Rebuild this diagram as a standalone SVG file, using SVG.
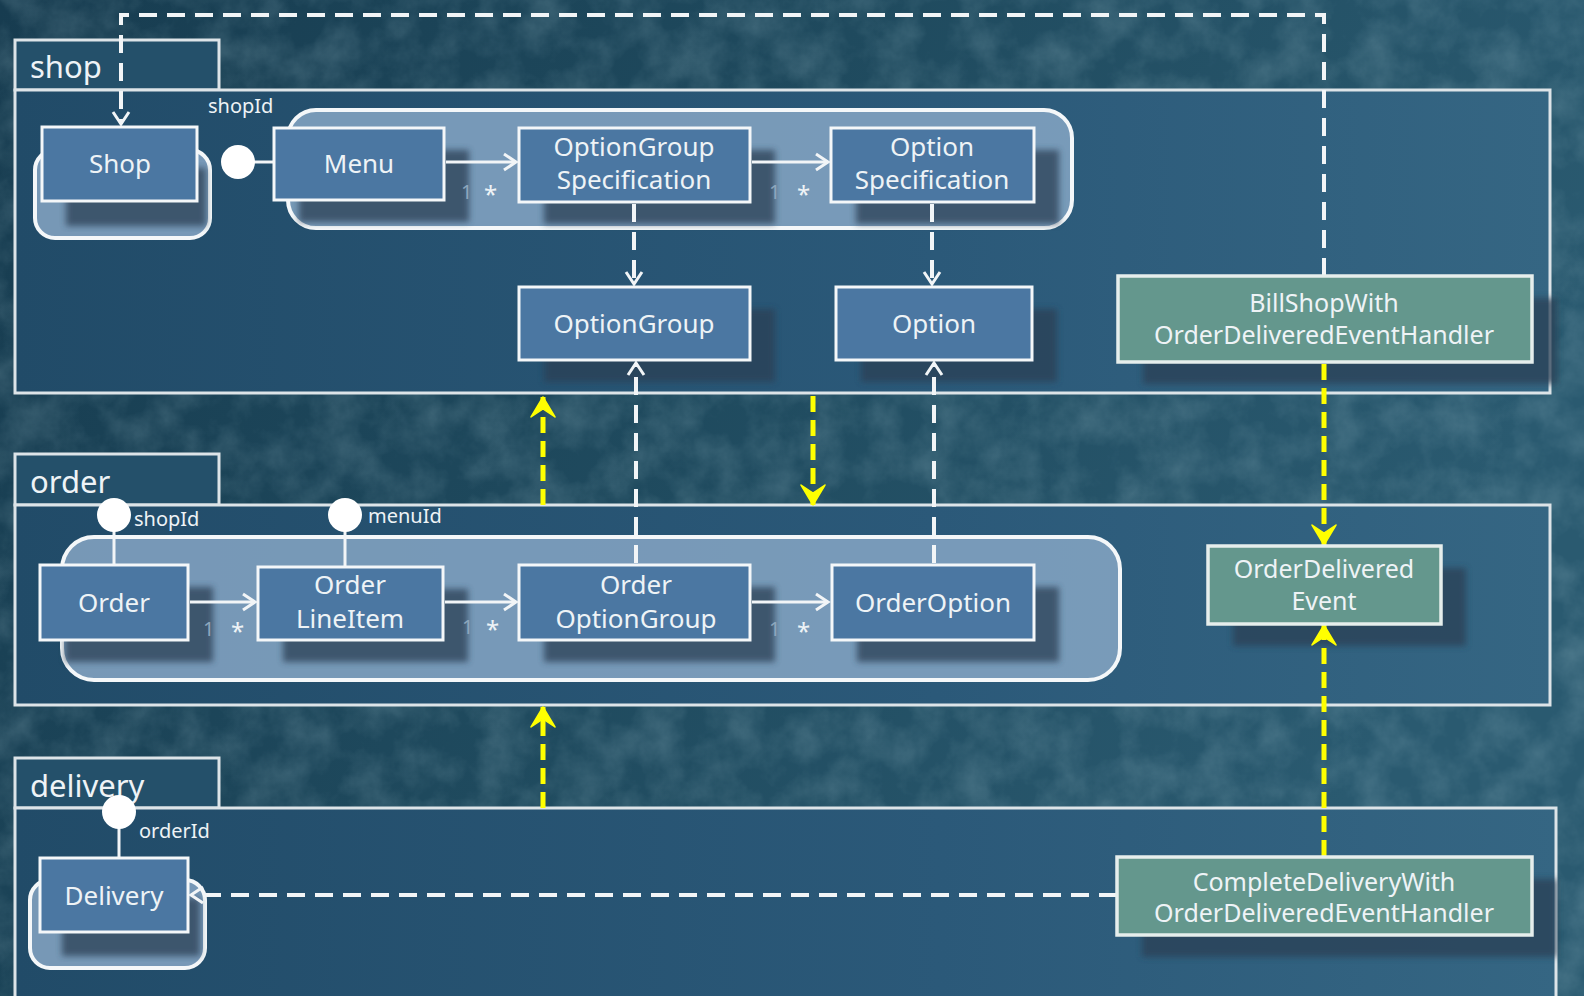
<svg xmlns="http://www.w3.org/2000/svg" width="1584" height="996" viewBox="0 0 1584 996">
<defs>
<linearGradient id="bg" x1="0" y1="0" x2="1" y2="0.3">
<stop offset="0" stop-color="#173c50"/>
<stop offset="0.5" stop-color="#1f4a5e"/>
<stop offset="1" stop-color="#2a5a70"/>
</linearGradient>
<linearGradient id="pkg" x1="0" y1="0" x2="1" y2="0">
<stop offset="0" stop-color="#214b68"/>
<stop offset="0.6" stop-color="#2b5979"/>
<stop offset="1" stop-color="#356683"/>
</linearGradient>
<filter id="tex" x="0" y="0" width="100%" height="100%">
<feTurbulence type="fractalNoise" baseFrequency="0.025" numOctaves="5" seed="7"/>
<feColorMatrix values="0 0 0 0 0.45  0 0 0 0 0.65  0 0 0 0 0.72  0 0 0 0.9 -0.3"/>
</filter>
<filter id="blur" x="-10%" y="-10%" width="120%" height="120%">
<feGaussianBlur stdDeviation="3"/>
</filter>
<marker id="wa" viewBox="-14 -10 16 20" refX="0" refY="0" markerWidth="16" markerHeight="20" markerUnits="userSpaceOnUse" orient="auto" overflow="visible">
<path d="M-12,-8 L0,0 L-12,8" fill="none" stroke="#f2f5f7" stroke-width="3"/>
</marker>
<marker id="ya" viewBox="-20 -14 22 28" refX="0" refY="0" markerWidth="22" markerHeight="28" markerUnits="userSpaceOnUse" orient="auto" overflow="visible">
<path d="M0,0 L-20,-12 L-12,0 L-20,12 Z" fill="#ffff00" stroke="#ffff00" stroke-width="1.5" stroke-linejoin="round"/>
</marker>
<style>
.pk{fill:url(#pkg);stroke:#dde4e8;stroke-width:3}
.tab{fill:#24506a;stroke:#dde4e8;stroke-width:3}
.ptx{font-family:"Noto Sans","Open Sans",sans-serif;font-size:31px;fill:#eef3f6}
.cont{fill:#86a6c4;fill-opacity:0.85;stroke:#f4f7f9;stroke-width:4}
.sh{fill:#2c3f55;opacity:0.75;filter:url(#blur)}
.nb{fill:#4b77a2;stroke:#f4f7f9;stroke-width:3}
.ng{fill:#64978d;stroke:#e6eeec;stroke-width:3.5}
.t{font-family:"Noto Sans","Open Sans",sans-serif;font-size:26px;fill:#eef3f6;text-anchor:middle}
.tg{font-family:"Noto Sans","Open Sans",sans-serif;font-size:25px;fill:#eef3f6;text-anchor:middle}
.lb{font-family:"Noto Sans","Open Sans",sans-serif;font-size:20px;fill:#eef3f6}
.m1{font-family:"Noto Sans","Open Sans",sans-serif;font-size:20px;fill:#8ea7bd}
.ms{font-family:"Noto Sans","Open Sans",sans-serif;font-size:24px;fill:#eef3f6}
.sol{stroke:#f2f5f7;stroke-width:3;fill:none}
.wd{stroke:#f2f5f7;stroke-width:4;fill:none;stroke-dasharray:18 10}
.yd{stroke:#ffff00;stroke-width:5;fill:none;stroke-dasharray:16 8}
.lol{fill:#ffffff}
</style>
</defs>

<rect x="0" y="0" width="1584" height="996" fill="url(#bg)"/>
<rect x="0" y="0" width="1584" height="996" filter="url(#tex)" opacity="0.4"/>

<!-- packages -->
<g id="pkg-shop">
<rect class="tab" x="15" y="40" width="204" height="50"/>
<rect class="pk" x="15" y="90" width="1535" height="303"/>
<text class="ptx" x="30" y="78">shop</text>
</g>
<g id="pkg-order">
<rect class="tab" x="15" y="454" width="204" height="51"/>
<rect class="pk" x="15" y="505" width="1535" height="200"/>
<text class="ptx" x="30" y="493">order</text>
</g>
<g id="pkg-delivery">
<rect class="tab" x="15" y="758" width="204" height="50"/>
<rect class="pk" x="15" y="808" width="1541" height="200"/>
<text class="ptx" x="30" y="797">delivery</text>
</g>

<!-- aggregate containers -->
<g id="agg-shop">
<rect class="cont" x="35" y="150" width="175" height="88" rx="20"/>
<rect class="sh" x="66" y="168" width="140" height="58"/>
</g>
<g id="agg-menu">
<rect class="cont" x="288" y="110" width="784" height="118" rx="28"/>
</g>
<g id="agg-order">
<rect class="cont" x="62" y="537" width="1058" height="143" rx="32"/>
</g>
<g id="agg-delivery">
<rect class="cont" x="30" y="880" width="175" height="88" rx="20"/>
<rect class="sh" x="62" y="898" width="138" height="58"/>
</g>

<!-- shadows -->
<g id="shadows">
<rect class="sh" x="299" y="150" width="170" height="72"/>
<rect class="sh" x="544" y="150" width="231" height="74"/>
<rect class="sh" x="856" y="150" width="203" height="74"/>
<rect class="sh" x="544" y="309" width="231" height="73"/>
<rect class="sh" x="861" y="309" width="196" height="73"/>
<rect class="sh" x="1143" y="298" width="414" height="86"/>
<rect class="sh" x="65" y="587" width="148" height="75"/>
<rect class="sh" x="283" y="589" width="185" height="73"/>
<rect class="sh" x="544" y="587" width="231" height="75"/>
<rect class="sh" x="857" y="587" width="202" height="75"/>
<rect class="sh" x="1233" y="568" width="233" height="78"/>
<rect class="sh" x="1142" y="879" width="415" height="78"/>
</g>

<!-- connectors -->
<g id="connectors">
<path class="wd" d="M1324,276 V15 H121 V124" marker-end="url(#wa)"/>
<line class="sol" x1="254" y1="162" x2="274" y2="162"/>
<line class="sol" x1="446" y1="162" x2="516" y2="162" marker-end="url(#wa)"/>
<line class="sol" x1="752" y1="162" x2="828" y2="162" marker-end="url(#wa)"/>
<text class="m1" x="461" y="199">1</text><text class="ms" x="484" y="203">*</text>
<text class="m1" x="769" y="199">1</text><text class="ms" x="797" y="203">*</text>
<path class="wd" d="M634,204 V284" marker-end="url(#wa)"/>
<path class="wd" d="M932,204 V284" marker-end="url(#wa)"/>
<path class="wd" d="M636,563 V363" marker-end="url(#wa)"/>
<path class="wd" d="M934,563 V363" marker-end="url(#wa)"/>
<line class="sol" x1="190" y1="602" x2="255" y2="602" marker-end="url(#wa)"/>
<line class="sol" x1="445" y1="602" x2="516" y2="602" marker-end="url(#wa)"/>
<line class="sol" x1="752" y1="602" x2="828" y2="602" marker-end="url(#wa)"/>
<text class="m1" x="203" y="636">1</text><text class="ms" x="231" y="640">*</text>
<text class="m1" x="462" y="634">1</text><text class="ms" x="486" y="638">*</text>
<text class="m1" x="769" y="636">1</text><text class="ms" x="797" y="640">*</text>
<line class="sol" x1="114" y1="515" x2="114" y2="565"/>
<line class="sol" x1="345" y1="515" x2="345" y2="567"/>
<line class="sol" x1="119" y1="812" x2="119" y2="858"/>
<path class="wd" d="M1117,895 H191" marker-end="url(#wa)"/>
<path class="yd" d="M543,505 V397" marker-end="url(#ya)"/>
<path class="yd" d="M813,396 V505" marker-end="url(#ya)"/>
<path class="yd" d="M1324,364 V545" marker-end="url(#ya)"/>
<path class="yd" d="M1324,856 V625" marker-end="url(#ya)"/>
<path class="yd" d="M543,808 V707" marker-end="url(#ya)"/>
<circle class="lol" cx="238" cy="162" r="17"/>
<circle class="lol" cx="114" cy="515" r="17"/>
<circle class="lol" cx="345" cy="515" r="17"/>
<circle class="lol" cx="119" cy="812" r="17"/>
<text class="lb" x="208" y="113">shopId</text>
<text class="lb" x="134" y="526">shopId</text>
<text class="lb" x="368" y="523">menuId</text>
<text class="lb" x="139" y="838">orderId</text>
</g>

<!-- nodes -->
<g id="n-shop"><rect class="nb" x="42" y="127" width="155" height="74"/><text class="t" x="120" y="173">Shop</text></g>
<g id="n-menu"><rect class="nb" x="274" y="128" width="170" height="72"/><text class="t" x="359" y="173">Menu</text></g>
<g id="n-ogs"><rect class="nb" x="519" y="128" width="231" height="74"/><text class="t" x="634" y="156">OptionGroup</text><text class="t" x="634" y="189">Specification</text></g>
<g id="n-os"><rect class="nb" x="831" y="128" width="203" height="74"/><text class="t" x="932" y="156">Option</text><text class="t" x="932" y="189">Specification</text></g>
<g id="n-og"><rect class="nb" x="519" y="287" width="231" height="73"/><text class="t" x="634" y="333">OptionGroup</text></g>
<g id="n-opt"><rect class="nb" x="836" y="287" width="196" height="73"/><text class="t" x="934" y="333">Option</text></g>
<g id="n-bill"><rect class="ng" x="1118" y="276" width="414" height="86"/><text class="tg" x="1324" y="312">BillShopWith</text><text class="tg" x="1324" y="344">OrderDeliveredEventHandler</text></g>
<g id="n-order"><rect class="nb" x="40" y="565" width="148" height="75"/><text class="t" x="114" y="612">Order</text></g>
<g id="n-oli"><rect class="nb" x="258" y="567" width="185" height="73"/><text class="t" x="350" y="594">Order</text><text class="t" x="350" y="628">LineItem</text></g>
<g id="n-oog"><rect class="nb" x="519" y="565" width="231" height="75"/><text class="t" x="636" y="594">Order</text><text class="t" x="636" y="628">OptionGroup</text></g>
<g id="n-oo"><rect class="nb" x="832" y="565" width="202" height="75"/><text class="t" x="933" y="612">OrderOption</text></g>
<g id="n-ode"><rect class="ng" x="1208" y="546" width="233" height="78"/><text class="tg" x="1324" y="578">OrderDelivered</text><text class="tg" x="1324" y="610">Event</text></g>
<g id="n-delivery"><rect class="nb" x="40" y="858" width="148" height="74"/><text class="t" x="114" y="905">Delivery</text></g>
<g id="n-complete"><rect class="ng" x="1117" y="857" width="415" height="78"/><text class="tg" x="1324" y="891">CompleteDeliveryWith</text><text class="tg" x="1324" y="922">OrderDeliveredEventHandler</text></g>
</svg>
